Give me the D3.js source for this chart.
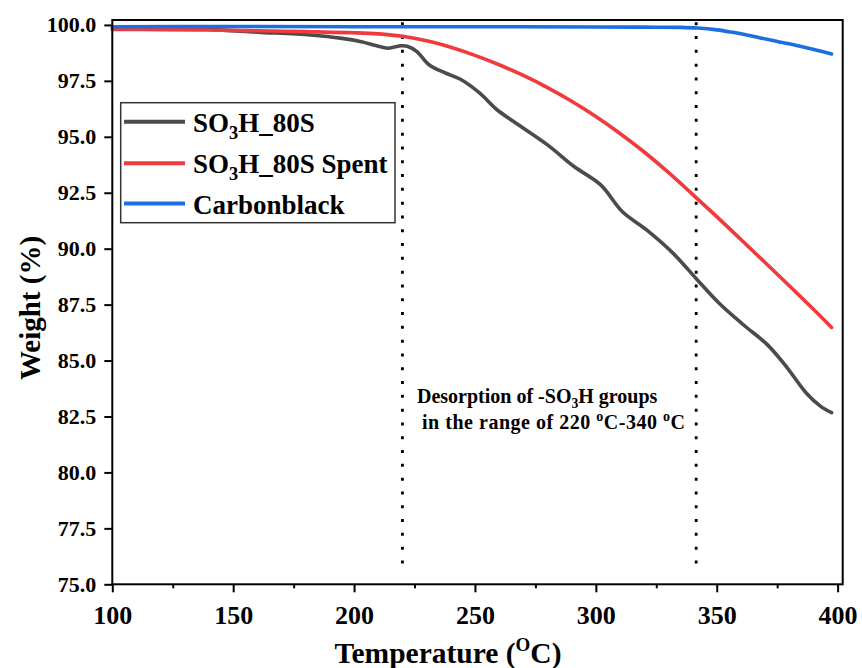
<!DOCTYPE html>
<html>
<head>
<meta charset="utf-8">
<script src="https://cdn.jsdelivr.net/npm/d3@7"></script>
<style>
  body { margin: 0; background: #fff; }
  text { font-family: "Liberation Serif", "Times New Roman", serif; font-weight: bold; fill: #000; }
</style>
</head>
<body>
<svg id="chart" width="862" height="668"></svg>
<script>
// TGA curves: temperature (°C) vs remaining weight (%)
const tempSO3H   = [100, 120, 140, 160, 182, 195, 203, 209, 214, 219.5, 222, 226, 231, 238, 244, 252, 259, 266, 280, 291, 302, 311, 321, 332, 342, 351, 361, 371, 379, 387, 393, 397.5];
const weightSO3H = [99.88, 99.87, 99.80, 99.68, 99.55, 99.40, 99.25, 99.08, 98.96, 99.07, 99.05, 98.81, 98.22, 97.84, 97.57, 96.95, 96.22, 95.68, 94.64, 93.67, 92.85, 91.65, 90.84, 89.79, 88.60, 87.56, 86.60, 85.70, 84.70, 83.55, 82.95, 82.67];

const tempSpent   = [100, 120, 140, 160, 180, 200, 210, 220, 230, 240, 250, 260, 270, 280, 290, 300, 310, 320, 330, 340, 350, 360, 370, 380, 390, 397.5];
const weightSpent = [99.80, 99.79, 99.77, 99.74, 99.70, 99.65, 99.60, 99.49, 99.29, 99.00, 98.64, 98.22, 97.74, 97.20, 96.59, 95.91, 95.15, 94.32, 93.41, 92.43, 91.43, 90.41, 89.38, 88.34, 87.29, 86.48];

const tempCB   = [100, 150, 200, 250, 300, 320, 335, 342, 350, 356, 362, 368, 376, 384, 391, 397.5];
const weightCB = [99.92, 99.93, 99.92, 99.92, 99.91, 99.90, 99.89, 99.86, 99.78, 99.68, 99.56, 99.42, 99.24, 99.06, 98.88, 98.70];

const seriesNames  = ["SO3H_80S", "SO3H_80S Spent", "Carbonblack"];
const seriesColors = ["#4b4b4b", "#ef3b3d", "#1c6fe0"];

const xTicks      = [100, 150, 200, 250, 300, 350, 400];
const xMinorTicks = [125, 175, 225, 275, 325, 375];
const yTicks      = [75, 77.5, 80, 82.5, 85, 87.5, 90, 92.5, 95, 97.5, 100];

// desorption window markers
const markerTemps = [220, 341.5];

const svg = d3.select("#chart");
const plot = { left: 112.3, right: 842.7, top: 20, bottom: 584.3 };

const x = d3.scaleLinear().domain([100, 402.1]).range([plot.left, plot.right]);
const y = d3.scaleLinear().domain([75, 100.22]).range([plot.bottom, plot.top]);

// axes
const xAxis = svg.append("g")
  .attr("transform", `translate(0,${plot.bottom})`)
  .call(d3.axisBottom(x).tickValues(xTicks).tickFormat(d3.format("d")).tickSize(8).tickPadding(13));
xAxis.select(".domain").remove();
xAxis.selectAll("line").attr("stroke", "#000").attr("stroke-width", 2);
xAxis.selectAll("text").attr("font-size", 26).attr("fill", "#000")
  .style("font-family", '"Liberation Serif", serif').style("font-weight", "bold");

const xMinor = svg.append("g")
  .attr("transform", `translate(0,${plot.bottom})`)
  .call(d3.axisBottom(x).tickValues(xMinorTicks).tickFormat("").tickSize(4));
xMinor.select(".domain").remove();
xMinor.selectAll("line").attr("stroke", "#000").attr("stroke-width", 2);

const yAxis = svg.append("g")
  .attr("transform", `translate(${plot.left},0)`)
  .call(d3.axisLeft(y).tickValues(yTicks).tickFormat(d3.format(".1f")).tickSize(8).tickPadding(8));
yAxis.select(".domain").remove();
yAxis.selectAll("line").attr("stroke", "#000").attr("stroke-width", 2);
yAxis.selectAll("text").attr("font-size", 22).attr("fill", "#000")
  .style("font-family", '"Liberation Serif", serif').style("font-weight", "bold");

// dotted markers
svg.selectAll(".marker").data(markerTemps).enter().append("line")
  .attr("class", "marker")
  .attr("x1", d => x(d)).attr("x2", d => x(d))
  .attr("y1", y(100.12)).attr("y2", y(75.85))
  .attr("stroke", "#000").attr("stroke-width", 2.8)
  .attr("stroke-dasharray", "3 10.8");

// curves
const line = d3.line().x(d => x(d[0])).y(d => y(d[1])).curve(d3.curveCatmullRom.alpha(0.5));
const series = [
  d3.zip(tempSO3H, weightSO3H),
  d3.zip(tempSpent, weightSpent),
  d3.zip(tempCB, weightCB)
];
series.forEach((pts, i) => {
  svg.append("path").datum(pts)
    .attr("d", line)
    .attr("fill", "none")
    .attr("stroke", seriesColors[i])
    .attr("stroke-width", 3.6)
    .attr("stroke-linejoin", "round")
    .attr("stroke-linecap", "round");
});

// frame
svg.append("rect")
  .attr("x", plot.left).attr("y", plot.top)
  .attr("width", plot.right - plot.left).attr("height", plot.bottom - plot.top)
  .attr("fill", "none").attr("stroke", "#000").attr("stroke-width", 2);

// writes a label with a chemical subscript "3" after "SO"
function formulaText(sel, text, size) {
  const m = text.match(/^(.*?SO)3(.*)$/);
  if (!m) { sel.text(text); return; }
  sel.append("tspan").text(m[1]);
  sel.append("tspan").attr("font-size", size * 0.68).attr("dy", size * 0.26).text("3");
  sel.append("tspan").attr("dy", -size * 0.26).text(m[2]);
}

// legend
const legend = svg.append("g");
legend.append("rect")
  .attr("x", 120.7).attr("y", 102.7).attr("width", 274.3).attr("height", 120)
  .attr("fill", "#fff").attr("stroke", "#333").attr("stroke-width", 1.5);
const rowY = [121.7, 163.3, 203.5];
seriesNames.forEach((name, i) => {
  legend.append("line")
    .attr("x1", 124).attr("x2", 185).attr("y1", rowY[i]).attr("y2", rowY[i])
    .attr("stroke", seriesColors[i]).attr("stroke-width", 4);
  const t = legend.append("text").attr("x", 193).attr("y", rowY[i] + 10).attr("font-size", 27);
  formulaText(t, name, 27);
});

// annotation
const ann1 = svg.append("text").attr("x", 417).attr("y", 403).attr("font-size", 20);
formulaText(ann1, "Desorption of -SO3H groups", 20);
const ann2 = svg.append("text").attr("x", 422).attr("y", 428.5).attr("font-size", 20)
  .attr("textLength", 263).attr("lengthAdjust", "spacing");
ann2.append("tspan").text("in the range of 220 ");
ann2.append("tspan").attr("font-size", 14).attr("dy", -8).text("o");
ann2.append("tspan").attr("dy", 8).text("C-340 ");
ann2.append("tspan").attr("font-size", 14).attr("dy", -8).text("o");
ann2.append("tspan").attr("dy", 8).text("C");

// axis titles
const xt = svg.append("text").attr("x", 448).attr("y", 663).attr("text-anchor", "middle").attr("font-size", 29.5);
xt.append("tspan").text("Temperature (");
xt.append("tspan").attr("font-size", 19).attr("dy", -12).text("O");
xt.append("tspan").attr("dy", 12).text("C)");

svg.append("text")
  .attr("transform", "translate(40,308) rotate(-90)")
  .attr("text-anchor", "middle").attr("font-size", 29)
  .text("Weight (%)");
</script>
</body>
</html>
